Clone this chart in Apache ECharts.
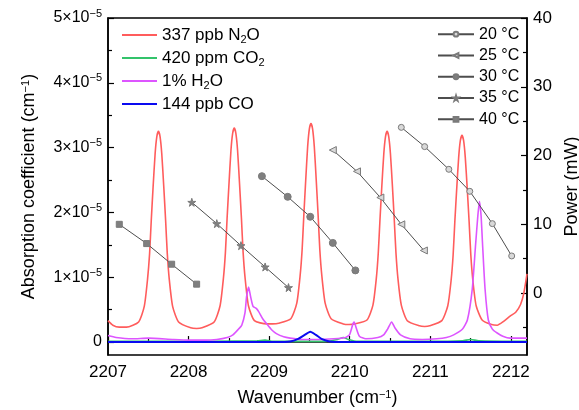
<!DOCTYPE html>
<html>
<head>
<meta charset="utf-8">
<script src="https://cdn.jsdelivr.net/npm/echarts@6/dist/echarts.min.js"></script>
<style>
  html, body { margin: 0; padding: 0; background: #fff; }
  #chart { width: 579px; height: 410px; }
</style>
</head>
<body>
<div id="chart"></div>
<script>
// absorption spectra, [wavenumber (cm-1), absorption (x1e-5 cm-1)]
const n2o = [
  [2207.00, 0.33], [2207.06, 0.26], [2207.14, 0.23], [2207.23, 0.23], [2207.38, 0.31],
  [2207.45, 0.55], [2207.49, 0.96], [2207.516, 1.36], [2207.537, 1.88], [2207.56, 2.40],
  [2207.585, 2.91], [2207.606, 3.17], [2207.626, 3.25], [2207.646, 3.17], [2207.667, 2.91],
  [2207.692, 2.40], [2207.715, 1.88], [2207.736, 1.36], [2207.761, 0.96], [2207.802, 0.55],
  [2207.876, 0.31], [2208.026, 0.22], [2208.10, 0.21], [2208.167, 0.22], [2208.317, 0.31],
  [2208.391, 0.56], [2208.432, 0.98], [2208.457, 1.38], [2208.478, 1.91], [2208.501, 2.43],
  [2208.526, 2.96], [2208.547, 3.22], [2208.567, 3.30], [2208.587, 3.22], [2208.608, 2.96],
  [2208.633, 2.43], [2208.656, 1.91], [2208.677, 1.38], [2208.702, 0.98], [2208.743, 0.56],
  [2208.817, 0.33], [2208.967, 0.28], [2209.04, 0.28], [2209.119, 0.29], [2209.269, 0.36],
  [2209.343, 0.60], [2209.384, 1.02], [2209.409, 1.42], [2209.430, 1.95], [2209.453, 2.48],
  [2209.478, 3.02], [2209.499, 3.29], [2209.519, 3.37], [2209.539, 3.29], [2209.560, 3.02],
  [2209.585, 2.48], [2209.608, 1.95], [2209.629, 1.42], [2209.654, 1.02], [2209.695, 0.60],
  [2209.769, 0.36], [2209.919, 0.28], [2209.99, 0.27], [2210.064, 0.28], [2210.214, 0.34],
  [2210.288, 0.57], [2210.329, 0.97], [2210.354, 1.37], [2210.375, 1.88], [2210.398, 2.40],
  [2210.423, 2.91], [2210.444, 3.17], [2210.464, 3.25], [2210.484, 3.17], [2210.505, 2.91],
  [2210.530, 2.40], [2210.553, 1.88], [2210.574, 1.37], [2210.599, 0.97], [2210.640, 0.57],
  [2210.714, 0.33], [2210.864, 0.25], [2210.93, 0.24], [2210.993, 0.25], [2211.143, 0.33],
  [2211.217, 0.56], [2211.258, 0.95], [2211.283, 1.34], [2211.304, 1.85], [2211.327, 2.35],
  [2211.352, 2.85], [2211.373, 3.11], [2211.393, 3.19], [2211.413, 3.11], [2211.434, 2.85],
  [2211.459, 2.35], [2211.482, 1.85], [2211.503, 1.34], [2211.528, 0.95], [2211.569, 0.56],
  [2211.643, 0.34], [2211.76, 0.27], [2211.83, 0.26], [2211.91, 0.32], [2211.99, 0.40],
  [2212.06, 0.46], [2212.12, 0.58], [2212.16, 0.75], [2212.20, 1.05]
];
const co2 = [
  [2207.00, 0.01], [2208.30, 0.01], [2208.85, 0.02], [2208.95, 0.03], [2209.05, 0.01],
  [2209.70, 0.01], [2209.85, 0.04], [2209.92, 0.07], [2209.98, 0.04], [2210.10, 0.01],
  [2211.00, 0.01], [2211.40, 0.02], [2211.50, 0.04], [2211.60, 0.02], [2212.20, 0.01]
];
const h2o = [
  [2207.00, 0.10], [2207.10, 0.07], [2207.30, 0.05], [2207.50, 0.06], [2207.80, 0.04],
  [2208.00, 0.03], [2208.20, 0.03], [2208.35, 0.04], [2208.48, 0.07], [2208.55, 0.11],
  [2208.62, 0.20], [2208.66, 0.26], [2208.70, 0.45], [2208.72, 0.70], [2208.745, 0.85],
  [2208.77, 0.70], [2208.80, 0.55], [2208.84, 0.52], [2208.87, 0.47], [2208.92, 0.36],
  [2208.97, 0.28], [2209.03, 0.19], [2209.09, 0.13], [2209.18, 0.08], [2209.26, 0.06],
  [2209.40, 0.04], [2209.60, 0.04], [2209.80, 0.05], [2209.95, 0.07], [2210.00, 0.12],
  [2210.04, 0.28], [2210.055, 0.31], [2210.08, 0.22], [2210.12, 0.09], [2210.20, 0.05],
  [2210.35, 0.07], [2210.42, 0.11], [2210.47, 0.20], [2210.52, 0.31], [2210.56, 0.22],
  [2210.63, 0.11], [2210.75, 0.05], [2210.90, 0.04], [2211.08, 0.05], [2211.20, 0.07],
  [2211.29, 0.11], [2211.40, 0.20], [2211.46, 0.34], [2211.52, 0.81], [2211.56, 1.47],
  [2211.59, 1.95], [2211.61, 2.17], [2211.63, 1.95], [2211.65, 1.47], [2211.68, 0.81],
  [2211.72, 0.34], [2211.77, 0.20], [2211.83, 0.14], [2211.90, 0.09], [2211.99, 0.06],
  [2212.20, 0.06]
];
const co = [
  [2207.00, 0.00], [2209.10, 0.00], [2209.26, 0.01], [2209.36, 0.05], [2209.44, 0.11],
  [2209.51, 0.16], [2209.58, 0.11], [2209.65, 0.05], [2209.75, 0.01], [2209.90, 0.00],
  [2212.20, 0.00]
];

// laser power vs wavenumber at each temperature, [wavenumber, power (mW)]
const p20 = [[2210.64, 24.1], [2210.93, 21.3], [2211.23, 18.0], [2211.49, 14.8], [2211.77, 10.1], [2212.01, 5.4]];
const p25 = [[2209.79, 20.8], [2210.09, 17.7], [2210.38, 13.9], [2210.64, 10.0], [2210.92, 6.2]];
const p30 = [[2208.91, 17.0], [2209.23, 14.0], [2209.51, 11.1], [2209.79, 7.3], [2210.07, 3.3]];
const p35 = [[2208.04, 13.2], [2208.35, 10.1], [2208.65, 6.9], [2208.95, 3.8], [2209.24, 0.8]];
const p40 = [[2207.14, 10.0], [2207.48, 7.2], [2207.79, 4.2], [2208.10, 1.3]];

const specNames = ['337 ppb N2O', '420 ppm CO2', '1% H2O', '144 ppb CO'];
const specLabels = ['337 ppb N{sub|2}O', '420 ppm CO{sub|2}', '1% H{sub|2}O', '144 ppb CO'];
const tempNames = ['20 °C', '25 °C', '30 °C', '35 °C', '40 °C'];

const xMajor = [2207, 2208, 2209, 2210, 2211, 2212];
const xMinor = [2207.5, 2208.5, 2209.5, 2210.5, 2211.5];
const leftMajor = [0, 1, 2, 3, 4, 5];
const leftMinor = [0.5, 1.5, 2.5, 3.5, 4.5];
const rightMajor = [0, 10, 20, 30, 40];
const rightMinor = [-5, 5, 15, 25, 35];

const font = 'Liberation Sans, Arial, Helvetica, sans-serif';
const starPath = 'path://M50,0 L61,35 L98,35 L68,57 L79,91 L50,70 L21,91 L32,57 L2,35 L39,35 Z';

const chart = echarts.init(document.getElementById('chart'));

const spec = (name, data, color, width) => ({
  name: name, type: 'line', data: data, xAxisIndex: 0, yAxisIndex: 0,
  symbol: 'none', smooth: 0.2,
  lineStyle: { color: color, width: width }, itemStyle: { color: color }
});

const temp = (name, data, symbol, size, fill, rotate) => ({
  name: name, type: 'line', data: data, xAxisIndex: 0, yAxisIndex: 2,
  symbol: symbol, symbolSize: size, symbolRotate: rotate || 0, showAllSymbol: true,
  lineStyle: { color: '#4d4d4d', width: 1 },
  itemStyle: { color: fill, borderColor: '#7a7a7a', borderWidth: 1 }
});

const axisLineStyle = { show: true, lineStyle: { color: '#000', width: 1.5 } };
const supRich = { sup: { fontSize: 11, fontFamily: font, lineHeight: 10, verticalAlign: 'top', color: '#000' } };

const option = {
  animation: false,
  textStyle: { fontFamily: font },
  grid: {
    left: 108, right: 52, top: 18, bottom: 55, outerBoundsMode: 'none',
    show: true, borderColor: '#000', borderWidth: 1.5
  },
  legend: [
    {
      data: specNames.map(n => ({ name: n, icon: 'rect' })),
      orient: 'vertical', left: 122, top: 25, padding: 0,
      itemWidth: 35, itemHeight: 2, itemGap: 3,
      formatter: n => specLabels[specNames.indexOf(n)],
      textStyle: {
        fontFamily: font, fontSize: 17, color: '#000', lineHeight: 20,
        rich: { sub: { fontSize: 11, fontFamily: font, lineHeight: 9, verticalAlign: 'bottom', color: '#000' } }
      }
    },
    {
      data: tempNames, orient: 'vertical', left: 437, top: 24.5, padding: 0,
      itemWidth: 36, itemHeight: 6, itemGap: 2,
      textStyle: { fontFamily: font, fontSize: 16, color: '#000', lineHeight: 19.3 }
    }
  ],
  xAxis: [
    {
      type: 'value', position: 'bottom', min: 2207, max: 2212.2,
      name: 'Wavenumber (cm{sup|−1})', nameLocation: 'middle', nameGap: 34,
      nameTextStyle: { fontSize: 18, color: '#000', fontFamily: font, rich: supRich },
      axisLine: axisLineStyle,
      axisTick: { inside: true, length: 6, customValues: xMajor, lineStyle: { color: '#000', width: 1.2 } },
      axisLabel: { customValues: xMajor, fontSize: 17, color: '#000', margin: 9, fontFamily: font, formatter: v => String(v) },
      splitLine: { show: false }
    },
    {
      type: 'value', position: 'bottom', min: 2207, max: 2212.2,
      axisLine: { show: false },
      axisTick: { inside: true, length: 4, customValues: xMinor, lineStyle: { color: '#000', width: 1.2 } },
      axisLabel: { show: false }, splitLine: { show: false }
    }
  ],
  yAxis: [
    {
      type: 'value', position: 'left', min: -0.2, max: 5,
      name: 'Absorption coefficient (cm{sup|−1})', nameLocation: 'middle', nameRotate: 90, nameGap: 70,
      nameTextStyle: { fontSize: 18, color: '#000', fontFamily: font, rich: supRich },
      axisLine: axisLineStyle,
      axisTick: { inside: true, length: 6, customValues: leftMajor, lineStyle: { color: '#000', width: 1.2 } },
      axisLabel: {
        customValues: leftMajor, fontSize: 16, color: '#000', margin: 6, fontFamily: font, lineHeight: 20,
        formatter: v => (v === 0 ? '0' : v + '×10{sup|−5}'),
        rich: supRich
      },
      splitLine: { show: false }
    },
    {
      type: 'value', position: 'left', min: -0.2, max: 5,
      axisLine: { show: false },
      axisTick: { inside: true, length: 4, customValues: leftMinor, lineStyle: { color: '#000', width: 1.2 } },
      axisLabel: { show: false }, splitLine: { show: false }
    },
    {
      type: 'value', position: 'right', min: -9, max: 40,
      name: 'Power (mW)', nameLocation: 'middle', nameRotate: 90, nameGap: 22,
      nameTextStyle: { fontSize: 18, color: '#000', fontFamily: font },
      axisLine: axisLineStyle,
      axisTick: { inside: true, length: 6, customValues: rightMajor, lineStyle: { color: '#000', width: 1.2 } },
      axisLabel: { customValues: rightMajor, fontSize: 17, color: '#000', margin: 6, fontFamily: font },
      splitLine: { show: false }
    },
    {
      type: 'value', position: 'right', min: -9, max: 40,
      axisLine: { show: false },
      axisTick: { inside: true, length: 4, customValues: rightMinor, lineStyle: { color: '#000', width: 1.2 } },
      axisLabel: { show: false }, splitLine: { show: false }
    }
  ],
  series: [
    spec(specNames[0], n2o, '#ff5c5c', 1.6),
    spec(specNames[1], co2, '#33c36b', 1.6),
    spec(specNames[2], h2o, '#dd55ff', 1.6),
    spec(specNames[3], co, '#0a0af0', 2),
    temp(tempNames[0], p20, 'circle', 6, '#d9d9d9'),
    temp(tempNames[1], p25, 'triangle', 7, '#d9d9d9', 90),
    temp(tempNames[2], p30, 'circle', 7, '#7f7f7f'),
    temp(tempNames[3], p35, starPath, 8, '#7f7f7f'),
    temp(tempNames[4], p40, 'rect', 6, '#7f7f7f')
  ]
};

chart.setOption(option);
</script>
</body>
</html>
